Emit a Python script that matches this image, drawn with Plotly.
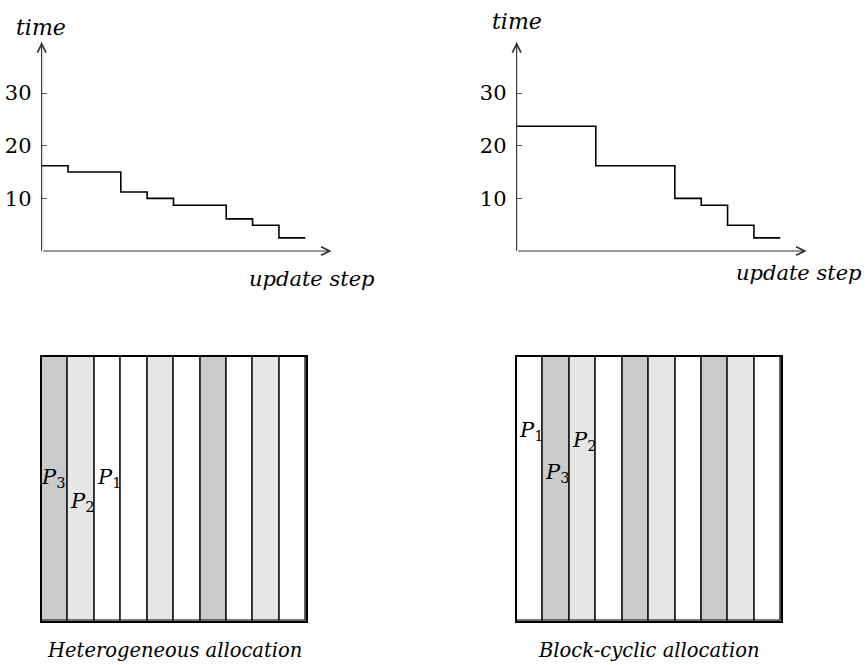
import plotly.graph_objects as go

# ---------------- data ----------------
steps = list(range(11))                      # step boundaries 0..10
hetero_times = [16.2, 15.0, 15.0, 11.2, 10.0, 8.7, 8.7, 6.1, 4.9, 2.5]
cyclic_times = [23.7, 23.7, 23.7, 16.2, 16.2, 16.2, 10.0, 8.7, 4.9, 2.5]
ytick_vals = [10, 20, 30]
ytick_text = ["10", "20", "30"]

columns = list(range(10))
hetero_owner = [3, 2, 1, 1, 2, 1, 3, 1, 2, 1]
cyclic_owner = [1, 3, 2, 1, 3, 2, 1, 3, 2, 1]
proc_color = {1: "#ffffff", 2: "#e6e6e6", 3: "#cbcbcb"}

W, H = 867, 665
FONT = "DejaVu Serif"

def px(x):
    return x / W

def py(y):
    return (H - y) / H

fig = go.Figure()

# ---- top step charts ----
for times, xa, ya in [(hetero_times, "x", "y"), (cyclic_times, "x2", "y2")]:
    fig.add_trace(go.Scatter(
        x=steps, y=times + [times[-1]], mode="lines", line_shape="hv",
        line=dict(color="black", width=1.6), xaxis=xa, yaxis=ya,
        showlegend=False, hoverinfo="skip", cliponaxis=False))

# ---- bottom allocation bars ----
for owners, xa, ya in [(hetero_owner, "x3", "y3"), (cyclic_owner, "x4", "y4")]:
    fig.add_trace(go.Bar(
        x=columns, y=[1] * len(columns), width=1,
        marker=dict(color=[proc_color[o] for o in owners],
                    line=dict(color="black", width=1.3)),
        xaxis=xa, yaxis=ya, showlegend=False, hoverinfo="skip"))

step_px = 26.36
top_axes = dict(range=[0, 11], showgrid=False, zeroline=False, showline=False,
                showticklabels=False, ticks="")
top_y = dict(range=[0, 39.7], showgrid=False, zeroline=False, showline=True,
             linecolor="#555", linewidth=1, ticks="inside", ticklen=5,
             tickcolor="#555", tickvals=ytick_vals, ticktext=ytick_text,
             tickfont=dict(family=FONT, size=21, color="black"),
             ticklabelstandoff=5)
box_axis = dict(showgrid=False, zeroline=False, showticklabels=False,
                showline=True, mirror=True, linecolor="black", linewidth=2)

fig.update_layout(
    width=W, height=H, margin=dict(l=0, r=0, t=0, b=0),
    paper_bgcolor="white", plot_bgcolor="rgba(0,0,0,0)",
    bargap=0,
    xaxis=dict(domain=[px(41.7), px(41.7 + 11 * step_px)], anchor="y", **top_axes),
    yaxis=dict(domain=[py(251), py(42)], anchor="x", **top_y),
    xaxis2=dict(domain=[px(516.7), px(516.7 + 11 * step_px)], anchor="y2", **top_axes),
    yaxis2=dict(domain=[py(251), py(42)], anchor="x2", **top_y),
    xaxis3=dict(domain=[px(41.7), px(306)], anchor="y3", range=[-0.5, 9.5], **box_axis),
    yaxis3=dict(domain=[py(620.7), py(356.7)], anchor="x3", range=[0, 1], **box_axis),
    xaxis4=dict(domain=[px(516.7), px(781)], anchor="y4", range=[-0.5, 9.5], **box_axis),
    yaxis4=dict(domain=[py(620.7), py(356.7)], anchor="x4", range=[0, 1], **box_axis),
)

ann = []
# axis arrows
for xa, ya in [("x", "y"), ("x2", "y2")]:
    ann.append(dict(x=11, y=0, ax=0, ay=0, xref=xa, yref=ya, axref=xa, ayref=ya,
                    showarrow=True, arrowhead=5, arrowsize=1.7, arrowwidth=1,
                    arrowcolor="#333", text=""))
    ann.append(dict(x=0, y=39.7, ax=0, ay=0, xref=xa, yref=ya, axref=xa, ayref=ya,
                    showarrow=True, arrowhead=5, arrowsize=1.7, arrowwidth=1,
                    arrowcolor="#333", text=""))

def label(text, x, y, size=17, xanchor="center", yanchor="middle", xref="paper", yref="paper"):
    ann.append(dict(text=text, x=x, y=y, xref=xref, yref=yref, xanchor=xanchor,
                    yanchor=yanchor, showarrow=False,
                    font=dict(family=FONT, size=size, color="black")))

label("<i>time</i>", px(41), py(27), size=22)
label("<i>time</i>", px(517), py(22), size=22)
label("<i>update step</i>", px(312), py(279), size=21)
label("<i>update step</i>", px(799), py(273), size=21)
label("<i>Heterogeneous allocation</i>", px(174), py(650), size=19.5)
label("<i>Block-cyclic allocation</i>", px(649), py(650), size=19.5)

# processor labels
label("<i>P</i><sub>3</sub>", 0.5, 0.54, size=21, xanchor="right", xref="x3", yref="y3")
label("<i>P</i><sub>2</sub>", 0.5, 0.45, size=21, xanchor="left", xref="x3", yref="y3")
label("<i>P</i><sub>1</sub>", 1.5, 0.54, size=21, xanchor="left", xref="x3", yref="y3")
label("<i>P</i><sub>1</sub>", -0.5, 0.72, size=21, xanchor="left", xref="x4", yref="y4")
label("<i>P</i><sub>3</sub>", 0.5, 0.56, size=21, xanchor="left", xref="x4", yref="y4")
label("<i>P</i><sub>2</sub>", 1.5, 0.68, size=21, xanchor="left", xref="x4", yref="y4")

fig.update_layout(annotations=ann)
fig.write_html("out.html", config={"displayModeBar": False},
               post_script="document.body.style.margin='0';")
